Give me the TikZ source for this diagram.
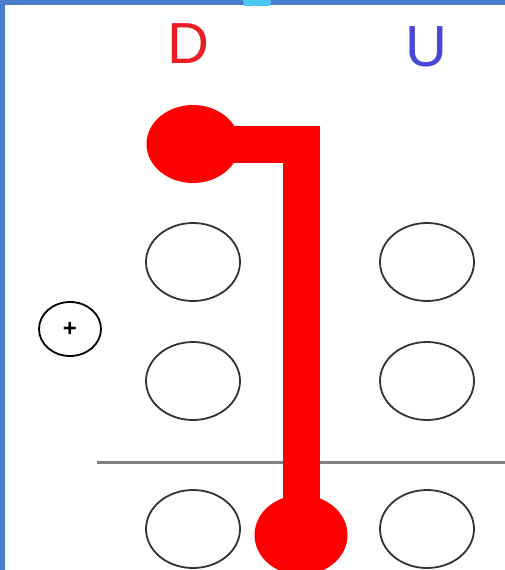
\documentclass[tikz,border=0pt]{standalone}
\usepackage{fontspec}
\setmainfont{Liberation Sans}
\usetikzlibrary{shapes.geometric}
\definecolor{frameblue}{RGB}{74,124,206}
\definecolor{dred}{RGB}{235,30,40}
\definecolor{ublue}{RGB}{72,72,215}
\tikzset{hole/.style={ellipse,draw=black!80,line width=1.8pt,fill=white,minimum width=94pt,minimum height=78pt,inner sep=0pt},
  blob/.style={ellipse,fill=red,minimum width=93pt,minimum height=78pt,inner sep=0pt}}
\begin{document}
\begin{tikzpicture}[x=1pt,y=-1pt]
\useasboundingbox (0,0) rectangle (505,570);
\fill[frameblue] (0,0) rectangle (505,570);
\fill[white] (5,5) rectangle (505,570);
\begin{scope}
\clip (0,0) rectangle (505,5);
\fill[cyan!70] (257,0) circle (14);
\end{scope}
\node[dred,font=\fontsize{58}{60}\selectfont] (labD) at (188,44) {D};
\node[ublue,font=\fontsize{58}{60}\selectfont] (labU) at (426,47) {U};
\foreach \r/\y in {1/262,2/381,3/529} {
  \node[hole] (d\r) at (193,\y) {};
  \node[hole] (u\r) at (427,\y) {};
}
\node[ellipse,draw=black,line width=1.8pt,minimum width=62pt,minimum height=54pt,inner sep=0pt,font=\bfseries\fontsize{24}{24}\selectfont] (plus) at (70,329) {\raisebox{-3pt}{+}};
\draw[gray,line width=3pt] (97,462) -- (505,462);
\node[blob] (dtop) at (193,144) {};
\node[blob,minimum width=93pt,minimum height=80pt] (dbot) at (301,535) {};
\draw[red,line width=37pt,miter limit=10] (dtop.center) -| (dbot.center);
\end{tikzpicture}
\end{document}
